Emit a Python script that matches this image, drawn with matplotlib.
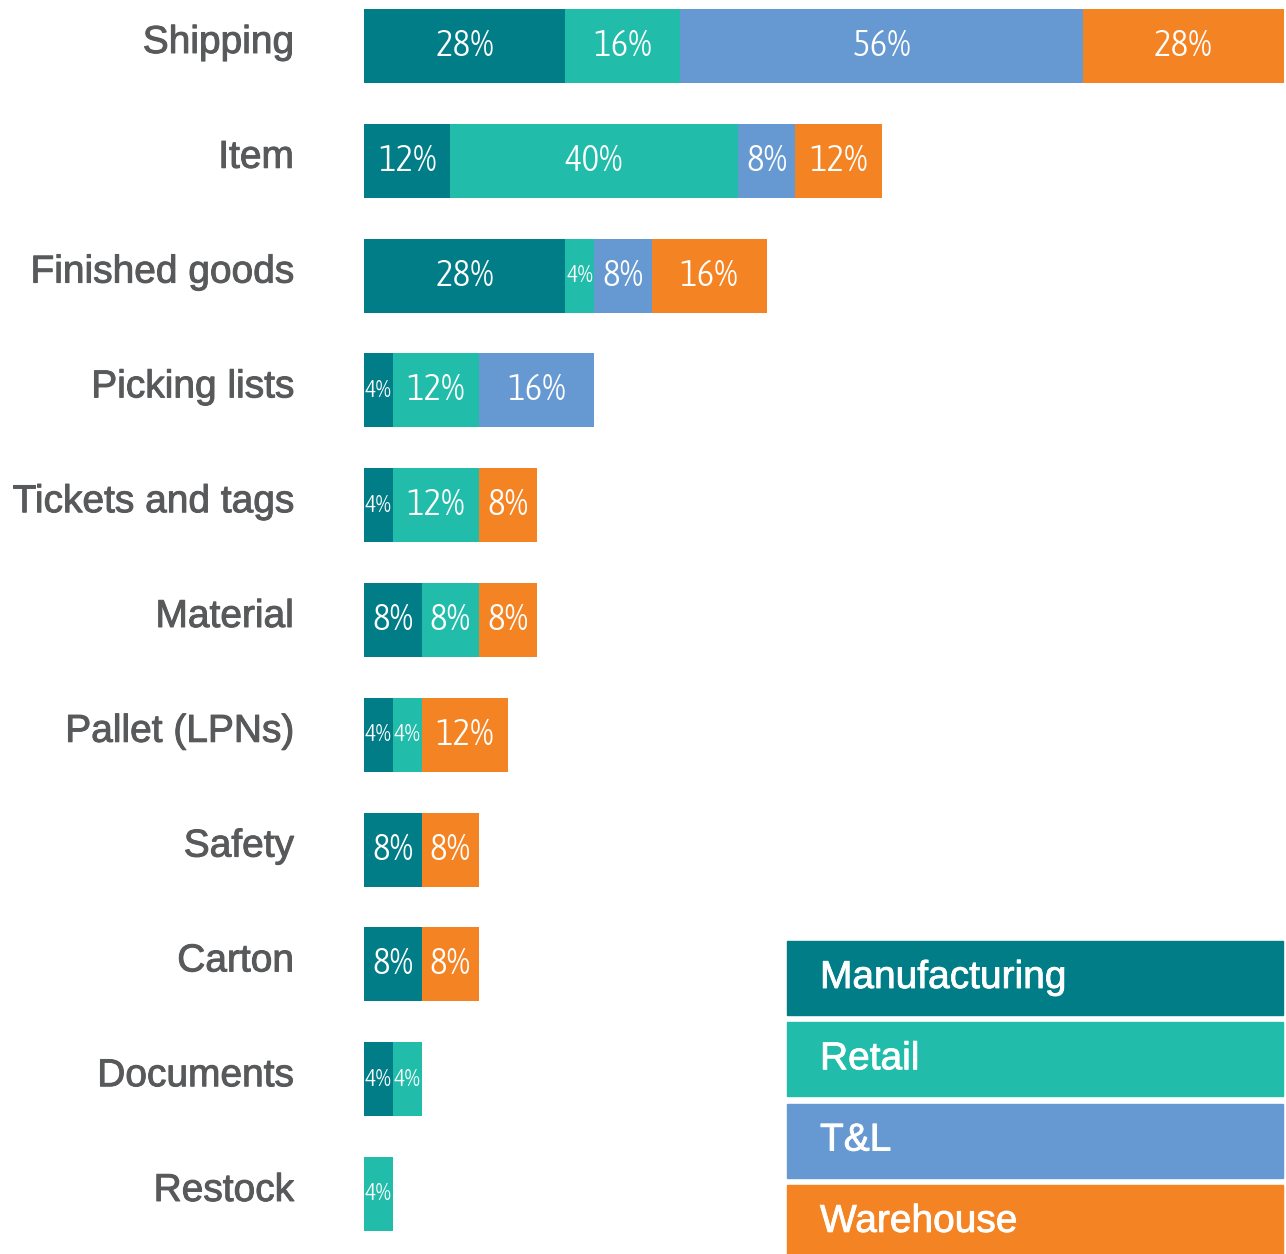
import matplotlib
matplotlib.use("Agg")
import matplotlib.pyplot as plt
import matplotlib.patheffects as pe
from matplotlib import font_manager
from matplotlib.patches import Rectangle
import numpy as np

# share of respondents per label type, split by industry
categories = ['Shipping', 'Item', 'Finished goods', 'Picking lists', 'Tickets and tags',
              'Material', 'Pallet (LPNs)', 'Safety', 'Carton', 'Documents', 'Restock']
manufacturing = [28, 12, 28, 4, 4, 8, 4, 8, 8, 4, 0]
retail = [16, 40, 4, 12, 12, 8, 4, 0, 0, 4, 4]
tl = [56, 8, 8, 16, 0, 0, 0, 0, 0, 0, 0]
warehouse = [28, 12, 16, 0, 8, 8, 12, 8, 8, 0, 0]

series = ['Manufacturing', 'Retail', 'T&L', 'Warehouse']
values = [manufacturing, retail, tl, warehouse]
colors = ['#007d87', '#22bdaa', '#6699d1', '#f48423']

# pick a narrow face for the percentages, light weight first
def find_narrow():
    cands = [f for f in font_manager.fontManager.ttflist
             if ('condensed' in f.name.lower() or 'narrow' in f.name.lower()
                 or str(f.stretch) == 'condensed') and f.style == 'normal']
    for want in (300, 400):
        for f in cands:
            if f.weight == want or (want == 400 and f.weight == 'normal'):
                return font_manager.FontProperties(fname=f.fname)
    return font_manager.FontProperties(family=['Roboto', 'DejaVu Sans'])

pct_prop = find_narrow()

W, H = 1286, 1254
fig = plt.figure(figsize=(W / 100, H / 100), dpi=100)
ax = fig.add_axes([0, 0, 1, 1])
ax.axis('off')

# pixel layout of the bar area
x0_px, x1_px = 364, 1284
px_per = (x1_px - x0_px) / 128.0
row0_px, row_step = 46, 114.8
ax.set_xlim(-x0_px / px_per, (W - x0_px) / px_per)
ax.set_ylim((H - row0_px) / row_step, -row0_px / row_step)

y = np.arange(len(categories))
bar_h = 74 / row_step

lab_font = ['Liberation Sans', 'DejaVu Sans']
PCT_SIZE = 27

left = np.zeros(len(categories))
pct_texts = []
for name, vals, c in zip(series, values, colors):
    vals = np.array(vals, dtype=float)
    ax.barh(y, vals, left=left, height=bar_h, color=c, edgecolor='none')
    for i, v in enumerate(vals):
        if v > 0:
            t = ax.text(left[i] + v / 2, y[i], f'{int(v)}%', ha='center', va='center',
                        color='white', fontproperties=pct_prop)
            t.set_fontsize(PCT_SIZE)
            pct_texts.append((t, v))
    left += vals

for i, cat in enumerate(categories):
    ax.annotate(cat, xy=(0, y[i]), xytext=(-70, 3), textcoords='offset pixels',
                ha='right', va='center', fontsize=28, color='#58595b', family=lab_font,
                path_effects=[pe.withStroke(linewidth=0.7, foreground='#58595b')])

# shrink percentage labels that would spill out of their segment
fig.canvas.draw()
r = fig.canvas.get_renderer()
for t, v in pct_texts:
    w = t.get_window_extent(r).width
    room = v * px_per - 2
    if w > room:
        t.set_fontsize(PCT_SIZE * room / w)

# legend blocks in the lower right
leg_x, leg_w, box_h, step = 787, 496, 74, 81.3
for k, (name, c) in enumerate(zip(series, colors)):
    top = 941 + k * step
    fig.add_artist(Rectangle((leg_x / W, 1 - (top + box_h) / H), leg_w / W, box_h / H,
                             transform=fig.transFigure, color=c, zorder=3))
    fig.text(820 / W, 1 - (top + box_h / 2) / H, name, ha='left', va='center',
             fontsize=28, color='white', family=lab_font, zorder=4,
             path_effects=[pe.withStroke(linewidth=0.6, foreground='white')])

fig.savefig('out.png', dpi=100, facecolor='white')
